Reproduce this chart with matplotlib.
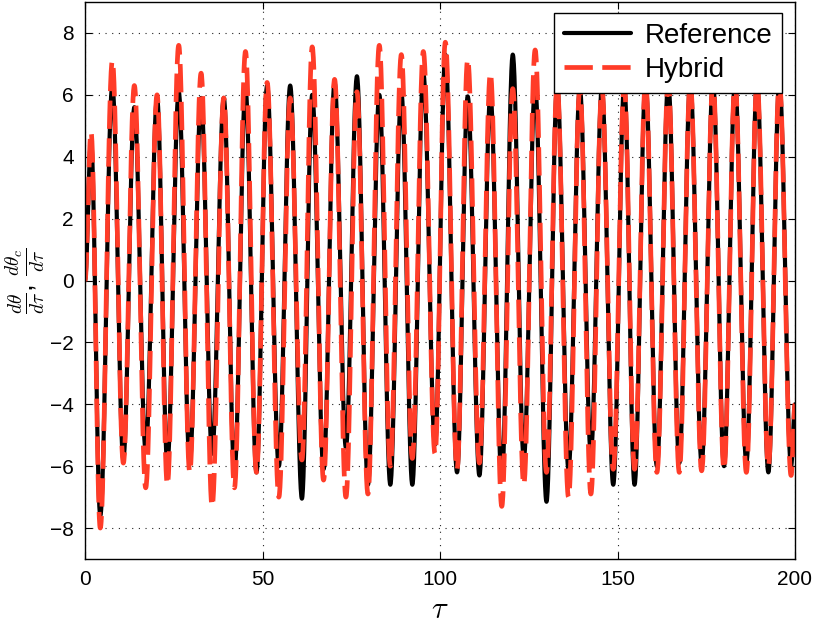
import numpy as np
import matplotlib.pyplot as plt

plt.rcParams['font.family'] = ['Liberation Sans', 'DejaVu Sans']
plt.rcParams['mathtext.fontset'] = 'cm'

# Turning points of the two angular-velocity traces (tau, reference, hybrid)
tau_ext = [0.0, 1.7, 4.3, 7.7, 10.8, 13.9, 17.1, 20.3, 23.2, 26.4, 29.5,
           32.7, 35.8, 39.1, 42.1, 45.2, 48.3, 51.3, 54.6, 57.8, 61.1,
           64.0, 67.2, 70.3, 73.5, 76.6, 79.7, 82.9, 86.0, 89.1, 92.2,
           95.3, 98.6, 101.5, 104.8, 107.8, 111.1, 114.2, 117.4, 120.5, 123.6,
           126.8, 130.0, 133.0, 136.2, 139.4, 142.5, 145.6, 148.8, 151.9, 154.8,
           157.9, 161.1, 164.3, 167.4, 170.5, 173.7, 176.9, 180.0, 183.1, 186.3,
           189.3, 192.5, 195.6, 198.9, 200.0]
ref_ext = [0.0, 4.5, -7.6, 6.3, -5.75, 5.6, -5.5, 5.9, -5.9, 6.1, -5.9,
           5.9, -5.6, 5.9, -6.2, 6.2, -6.2, 6.3, -6.0, 6.3, -7.05,
           6.0, -6.1, 6.4, -5.4, 6.6, -6.6, 6.0, -6.6, 6.1, -6.6,
           6.7, -5.3, 7.3, -6.2, 5.95, -6.3, 6.0, -6.45, 7.3, -5.75,
           6.3, -7.15, 6.3, -6.1, 6.2, -5.6, 6.2, -6.6, 6.3, -6.6,
           6.4, -6.0, 6.4, -5.9, 6.4, -5.9, 6.4, -6.0, 6.4, -5.9,
           6.4, -6.2, 6.4, -6.0, -4.0]
hyb_ext = [0.0, 4.8, -8.0, 7.1, -5.9, 6.3, -6.7, 6.0, -6.6, 7.6, -6.2,
           6.7, -7.3, 5.9, -6.7, 7.4, -6.2, 6.4, -7.0, 5.9, -5.8,
           7.55, -6.45, 6.5, -7.0, 6.1, -6.9, 7.6, -6.0, 7.3, -5.75,
           7.4, -5.6, 7.7, -6.1, 7.15, -5.9, 6.7, -7.3, 6.2, -6.6,
           7.45, -6.2, 6.3, -7.0, 6.2, -6.9, 6.2, -6.1, 6.3, -6.1,
           6.4, -6.2, 6.4, -6.2, 6.4, -6.15, 6.4, -6.1, 6.4, -6.2,
           6.4, -6.0, 6.4, -6.3, -4.0]


def trace(t_k, y_k, n=40):
    # half-cosine swing between consecutive turning points
    ts, ys = [], []
    s = np.linspace(0.0, 1.0, n, endpoint=False)
    w = 0.5 * (1.0 - np.cos(np.pi * s))
    for i in range(len(t_k) - 1):
        ts.append(t_k[i] + (t_k[i + 1] - t_k[i]) * s)
        ys.append(y_k[i] + (y_k[i + 1] - y_k[i]) * w)
    ts.append([t_k[-1]])
    ys.append([y_k[-1]])
    return np.concatenate(ts), np.concatenate(ys)


t_ref, y_ref = trace(tau_ext, ref_ext)
t_hyb, y_hyb = trace(tau_ext, hyb_ext)

fig = plt.figure(figsize=(8.14, 6.25), dpi=100)
ax = fig.add_axes([85 / 814, 1 - 559 / 625, 710 / 814, 557 / 625])

ax.plot(t_ref, y_ref, color='black', lw=3.0, label='Reference', solid_capstyle='round')
ax.plot(t_hyb, y_hyb, color='#ff3c28', lw=3.4, dashes=(6, 2), label='Hybrid')

ax.set_xlim(0, 200)
ax.set_ylim(-9, 9)
ax.set_xticks([0, 50, 100, 150, 200])
ax.set_yticks(np.arange(-8, 9, 2))
ax.grid(True, linestyle=(0, (1, 5)), color='#222222', lw=0.8)
ax.tick_params(direction='in', top=True, right=True, labelsize=15, length=5, pad=8)
for sp in ax.spines.values():
    sp.set_linewidth(1.0)

ax.set_xlabel(r'$\tau$', fontsize=22, labelpad=4)
ax.set_ylabel(r'$\frac{d\theta}{d\tau}$, $\frac{d\theta_c}{d\tau}$', fontsize=20)
ax.yaxis.set_label_coords(-0.0535, 0.5)

leg = ax.legend(loc='upper right', bbox_to_anchor=(0.982, 0.980), borderaxespad=0,
                fontsize=20, fancybox=False, framealpha=1, edgecolor='black',
                handlelength=2.4, borderpad=0.35, labelspacing=0.3, handletextpad=0.5)
leg.get_frame().set_linewidth(1.0)

fig.savefig('out.png', dpi=100)
